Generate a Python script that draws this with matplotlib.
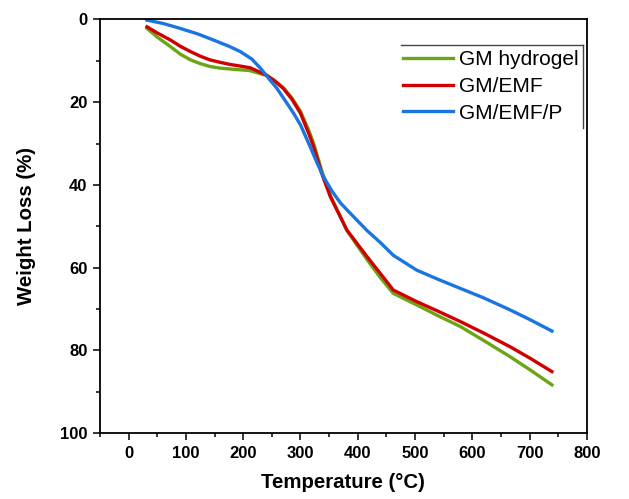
import numpy as np
import matplotlib.pyplot as plt
from matplotlib.lines import Line2D
from matplotlib.ticker import MultipleLocator

plt.rcParams['font.family'] = ['Liberation Sans', 'DejaVu Sans']

# --------------------------
# data
temp_gm = [32, 50, 73, 90, 108, 125, 142, 160, 177, 195, 212, 241, 255, 270, 285,
           300, 315, 323, 337, 352, 381, 416, 440, 462, 503, 540, 579, 620, 666, 700, 739]
loss_gm = [2.2, 4.3, 6.6, 8.4, 9.8, 10.7, 11.4, 11.8, 12.0, 12.2, 12.4, 13.6, 14.8, 16.5, 19.0,
           22.2, 27.0, 30.0, 36.5, 42.5, 51.0, 58.0, 62.5, 66.2, 69.0, 71.6, 74.2, 77.6, 81.5, 84.6, 88.3]

temp_emf = [32, 50, 73, 90, 108, 125, 142, 160, 177, 195, 212, 241, 255, 270, 285,
            300, 315, 323, 337, 352, 381, 416, 440, 462, 503, 540, 579, 620, 666, 700, 739]
loss_emf = [1.8, 3.3, 5.0, 6.5, 7.8, 8.9, 9.8, 10.4, 10.9, 11.3, 11.7, 13.5, 14.9, 16.7, 19.3,
            22.7, 27.8, 30.8, 37.2, 42.8, 50.9, 57.3, 61.5, 65.4, 68.2, 70.5, 73.0, 75.8, 79.1, 81.8, 85.1]

temp_emfp = [32, 60, 90, 120, 148, 175, 195, 215, 230, 247, 259, 275, 288, 300, 317,
             330, 340, 355, 370, 390, 416, 440, 462, 503, 540, 579, 620, 666, 700, 739]
loss_emfp = [0.2, 1.0, 2.2, 3.5, 5.0, 6.5, 7.8, 9.6, 11.8, 14.7, 16.7, 20.0, 22.7, 25.5, 30.8,
             35.0, 38.0, 41.5, 44.4, 47.3, 51.0, 54.0, 57.0, 60.6, 62.8, 65.0, 67.3, 70.2, 72.5, 75.3]

labels = ['GM hydrogel', 'GM/EMF', 'GM/EMF/P']
colors = ['#6aa514', '#d00000', '#1a74e2']

# --------------------------
fig = plt.figure(figsize=(6.29, 4.99), dpi=100)
ax = fig.add_axes([0.159, 0.1317, 0.774, 0.8296])

ax.plot(temp_gm, loss_gm, color=colors[0], lw=2.4, label=labels[0])
ax.plot(temp_emf, loss_emf, color=colors[1], lw=2.4, label=labels[1])
ax.plot(temp_emfp, loss_emfp, color=colors[2], lw=2.4, label=labels[2])

ax.set_xlim(-50, 800)
ax.set_ylim(100, 0)
ax.xaxis.set_major_locator(MultipleLocator(100))
ax.xaxis.set_minor_locator(MultipleLocator(50))
ax.yaxis.set_major_locator(MultipleLocator(20))
ax.yaxis.set_minor_locator(MultipleLocator(10))
ax.tick_params(which='major', direction='out', length=5, width=1.1, labelsize=12, pad=4)
ax.tick_params(which='minor', direction='out', length=3, width=1.1)
for lab in ax.get_xticklabels() + ax.get_yticklabels():
    lab.set_fontweight('bold')
for sp in ax.spines.values():
    sp.set_linewidth(1.3)

ax.set_xlabel('Temperature (°C)', fontsize=14.7, fontweight='bold', labelpad=9)
ax.set_ylabel('Weight Loss (%)', fontsize=14.7, fontweight='bold', labelpad=17)

leg = ax.legend(loc='upper left', bbox_to_anchor=(0.622, 0.925), frameon=False,
                fontsize=15, handlelength=2.4, handletextpad=0.29, labelspacing=0.37,
                borderpad=0, borderaxespad=0)

# legend frame: only top and right edges drawn
fig.add_artist(Line2D([401 / 629, 583 / 629], [1 - 45 / 499, 1 - 45 / 499], color='#444444', lw=1))
fig.add_artist(Line2D([583 / 629, 583 / 629], [1 - 45 / 499, 1 - 128 / 499], color='#444444', lw=1))

fig.savefig('out.png', dpi=100)
